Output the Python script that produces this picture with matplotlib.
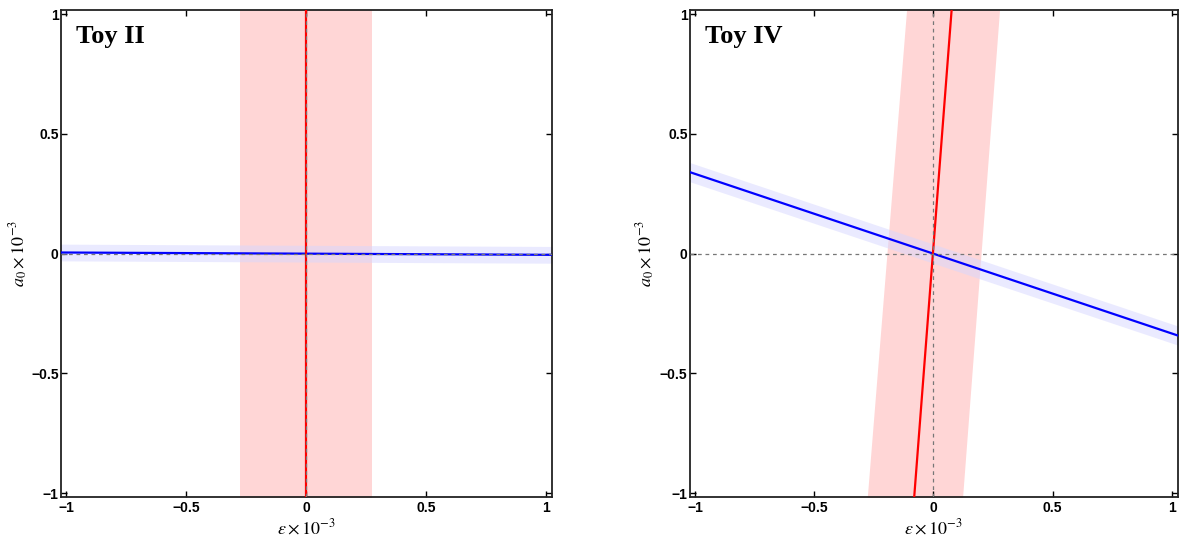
import numpy as np
import matplotlib
matplotlib.use("Agg")
import matplotlib.pyplot as plt

plt.rcParams['mathtext.fontset'] = 'stix'
plt.rcParams['font.family'] = ['Liberation Sans', 'DejaVu Sans']

# end points of each curve, read at the frame edges (x or y = -1.05 / 1.05)
ends = [-1.05, 1.05]

# Toy II
toy2_red_eps = [0.0, 0.0]            # eps of red line at a0 = ends
toy2_red_lo = [-0.275, -0.275]
toy2_red_hi = [0.275, 0.275]
toy2_blue_a0 = [0.005, -0.005]       # a0 of blue line at eps = ends
toy2_blue_lo = [-0.030, -0.040]
toy2_blue_hi = [0.040, 0.030]

# Toy IV
toy4_red_eps = [-0.083, 0.079]
toy4_red_lo = [-0.28, -0.11]
toy4_red_hi = [0.12, 0.28]
toy4_blue_a0 = [0.35, -0.35]
toy4_blue_lo = [0.31, -0.39]
toy4_blue_hi = [0.39, -0.31]

ticks = [-1, -0.5, 0, 0.5, 1]
tick_labels = ['\u22121', '\u22120.5', '0', '0.5', '1']


def draw_panel(ax, title, red_eps, red_lo, red_hi, blue_a0, blue_lo, blue_hi, ylab_x):
    ax.fill_betweenx(ends, red_lo, red_hi, color='#ffd6d6', lw=0, zorder=1)
    ax.fill_between(ends, blue_lo, blue_hi, color='#d6d6ff', alpha=0.5, lw=0, zorder=2)
    ax.plot(ends, blue_a0, color='#0000ff', lw=1.6, zorder=4)
    ax.plot(red_eps, ends, color='#ff0000', lw=1.6, zorder=5)
    ax.axhline(0, color='#777777', ls=(0, (3, 3)), lw=0.9, zorder=6)
    ax.axvline(0, color='#777777', ls=(0, (3, 3)), lw=0.9, zorder=6)

    ax.set_xlim(-1.02, 1.025)
    ax.set_ylim(-1.017, 1.017)
    ax.set_xticks(ticks)
    ax.set_yticks(ticks)
    ax.set_xticklabels(tick_labels, fontweight='bold', fontsize=10)
    ax.set_yticklabels(tick_labels, fontweight='bold', fontsize=10)
    ax.tick_params(direction='in', length=4, width=1, top=True, right=True, pad=3)
    ax.tick_params(axis='y', pad=2)
    for s in ax.spines.values():
        s.set_linewidth(1.3)
        s.set_color('#222222')
    ax.set_xlabel(r'$\varepsilon \times 10^{-3}$', fontsize=13, labelpad=2)
    ax.set_ylabel(r'$a_0 \times 10^{-3}$', fontsize=13)
    ax.yaxis.set_label_coords(ylab_x, 0.5)
    ax.text(0.03, 0.97, title, transform=ax.transAxes, ha='left', va='top',
            fontsize=19, fontweight='bold', family='Liberation Serif', zorder=7)


fig = plt.figure(figsize=(11.8, 5.38), dpi=100)
ax1 = fig.add_axes([0.052, 0.076, 0.416, 0.905])
ax2 = fig.add_axes([0.585, 0.076, 0.413, 0.905])

draw_panel(ax1, 'Toy II', toy2_red_eps, toy2_red_lo, toy2_red_hi,
           toy2_blue_a0, toy2_blue_lo, toy2_blue_hi, -0.064)
draw_panel(ax2, 'Toy IV', toy4_red_eps, toy4_red_lo, toy4_red_hi,
           toy4_blue_a0, toy4_blue_lo, toy4_blue_hi, -0.068)

fig.savefig('out.png', dpi=100)
